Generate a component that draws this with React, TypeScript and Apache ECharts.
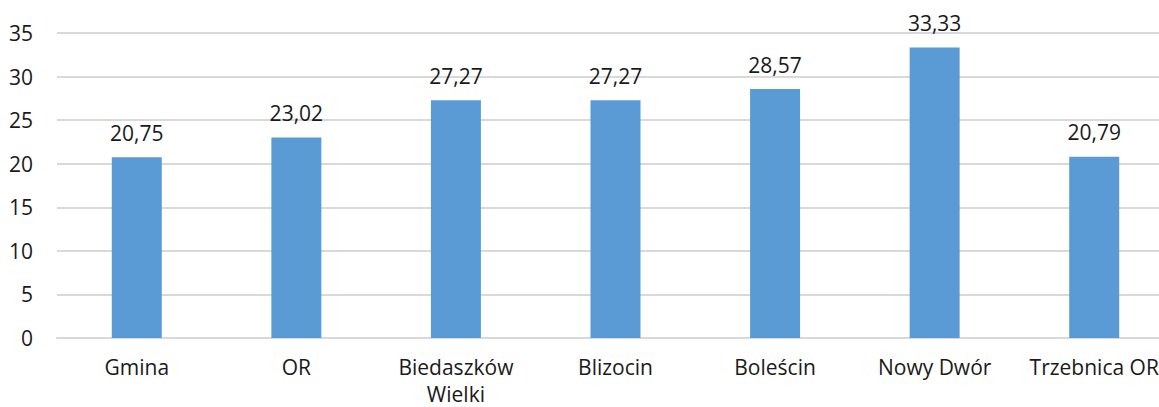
import React, { useEffect, useRef } from "react";
import * as echarts from "echarts";

const categories = ["Gmina", "OR", "Biedaszków\nWielki", "Blizocin", "Boleścin", "Nowy Dwór", "Trzebnica OR"];
const values = [20.75, 23.02, 27.27, 27.27, 28.57, 33.33, 20.79];
const yTicks = { min: 0, max: 35, interval: 5 };

export default function App() {
  const ref = useRef<HTMLDivElement>(null);
  useEffect(() => {
    document.body.style.margin = "0";
    const chart = echarts.init(ref.current!, null, { renderer: "svg" });
    const font = "'Open Sans', 'Noto Sans', sans-serif";
    chart.setOption({
      animation: false,
      grid: { left: 57, right: 0, top: 33, bottom: 69, containLabel: false, outerBoundsMode: "none" },
      xAxis: {
        type: "category",
        data: categories,
        axisLine: { show: true, lineStyle: { color: "#D9D9D9", width: 2 } },
        axisTick: { show: false },
        axisLabel: { color: "#1a1a1a", fontSize: 21, fontFamily: font, margin: 15, lineHeight: 27, interval: 0 },
      },
      yAxis: {
        type: "value",
        min: yTicks.min,
        max: yTicks.max,
        interval: yTicks.interval,
        axisLine: { show: false },
        axisTick: { show: false },
        splitLine: { lineStyle: { color: "#D9D9D9", width: 2 } },
        axisLabel: { color: "#1a1a1a", fontSize: 21, fontFamily: font, margin: 24 },
      },
      series: [
        {
          type: "bar",
          data: values,
          barWidth: 50,
          itemStyle: { color: "#5B9BD5" },
          label: {
            show: true,
            position: "top",
            distance: 14,
            color: "#1a1a1a",
            fontSize: 21,
            fontFamily: font,
            formatter: (p: any) => p.value.toFixed(2).replace(".", ","),
          },
        },
      ],
    });
    return () => chart.dispose();
  }, []);
  return (
    <div style={{ width: 1159, height: 407, overflow: "hidden" }}>
      <div ref={ref} style={{ width: 1174, height: 407 }} />
    </div>
  );
}
